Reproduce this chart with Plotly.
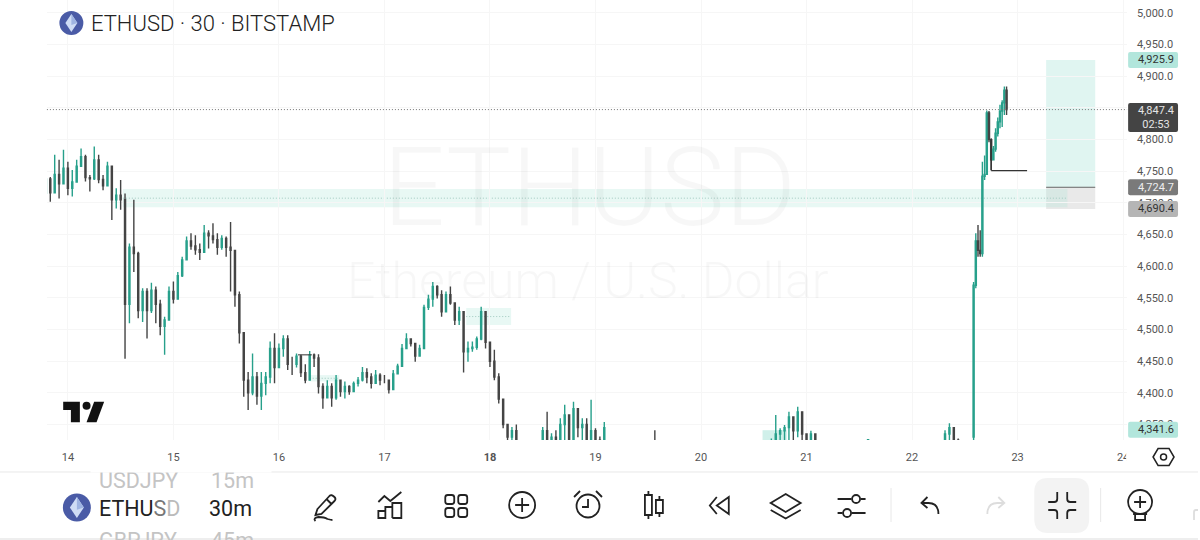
"""ETHUSD 30m chart screenshot rebuilt with Plotly candlesticks."""

import pandas as pd
import plotly.graph_objects as go

W, H = 1200, 540
PLOT_BOTTOM = 440
Y_MIN, Y_MAX = 4325.5, 5020.5

main_highs = [
    4744, 4741, 4776, 4768, 4784, 4765, 4752, 4768, 4786, 4776,
    4744, 4789, 4776, 4744, 4765, 4755, 4723, 4736, 4715, 4636,
    4705, 4623, 4565, 4565, 4574, 4568, 4547, 4520, 4568, 4576,
    4591, 4615, 4647, 4652, 4649, 4636, 4665, 4657, 4668, 4652,
    4649, 4647, 4670, 4620, 4560, 4496, 4433, 4462, 4433, 4433,
    4433, 4481, 4494, 4478, 4491, 4491, 4457, 4462, 4460, 4445,
    4466, 4462, 4461, 4415, 4420, 4415, 4428, 4418, 4418, 4412,
    4418, 4425, 4441, 4439, 4431, 4436, 4431, 4428, 4418, 4436,
    4446, 4477, 4494, 4486, 4476, 4476, 4539, 4555, 4575, 4570,
    4562, 4560, 4568, 4539, 4536, 4518, 4481, 4481, 4489, 4536,
    4523, 4473, 4468, 4431, 4383, 4338, 4346, 4350,
]
main_lows = [
    4710, 4702, 4721, 4707, 4731, 4712, 4710, 4736, 4757, 4734,
    4718, 4736, 4731, 4720, 4741, 4673, 4691, 4689, 4454, 4510,
    4591, 4518, 4512, 4486, 4526, 4510, 4491, 4460, 4533, 4541,
    4557, 4583, 4615, 4626, 4618, 4610, 4641, 4628, 4636, 4618,
    4626, 4615, 4560, 4536, 4478, 4394, 4373, 4396, 4381, 4373,
    4396, 4415, 4415, 4454, 4457, 4436, 4428, 4440, 4425, 4415,
    4441, 4441, 4399, 4375, 4394, 4378, 4389, 4394, 4391, 4397,
    4404, 4410, 4418, 4415, 4407, 4415, 4412, 4415, 4399, 4404,
    4431, 4446, 4473, 4473, 4449, 4457, 4473, 4531, 4536, 4549,
    4520, 4531, 4539, 4507, 4507, 4432, 4449, 4465, 4468, 4483,
    4470, 4441, 4420, 4383, 4344, 4310, 4315, 4310,
]
main_closes = [
    4738, 4716, 4745, 4730, 4755, 4723, 4733, 4758, 4773, 4740,
    4738, 4768, 4737, 4727, 4758, 4705, 4712, 4705, 4540, 4630,
    4620, 4530, 4560, 4530, 4562, 4540, 4505, 4515, 4560, 4548,
    4585, 4610, 4640, 4632, 4626, 4622, 4652, 4648, 4642, 4630,
    4644, 4630, 4625, 4555, 4495, 4420, 4400, 4425, 4395, 4415,
    4425, 4470, 4440, 4470, 4485, 4445, 4445, 4458, 4432, 4420,
    4460, 4455, 4410, 4392, 4410, 4392, 4420, 4402, 4410, 4402,
    4415, 4420, 4432, 4425, 4415, 4428, 4420, 4420, 4405, 4430,
    4442, 4470, 4485, 4478, 4458, 4470, 4535, 4548, 4568, 4555,
    4528, 4555, 4542, 4515, 4528, 4465, 4470, 4472, 4485, 4528,
    4480, 4450, 4425, 4390, 4350, 4330, 4340, 4318,
]
main_open = 4715

noon18_highs = [4346, 4370, 4336, 4341, 4360, 4381, 4354, 4386, 4373, 4360, 4360, 4389, 4344, 4331, 4354]
noon18_lows = [4300, 4300, 4305, 4305, 4300, 4310, 4300, 4310, 4330, 4310, 4310, 4320, 4310, 4300, 4300]
noon18_closes = [4340, 4312, 4330, 4310, 4350, 4365, 4320, 4375, 4345, 4350, 4325, 4340, 4325, 4318, 4345]
noon18_open = 4310

pm20_highs = [4328, 4365, 4344, 4349, 4370, 4362, 4378, 4346, 4331, 4340, 4333]
pm20_lows = [4305, 4300, 4310, 4310, 4325, 4320, 4330, 4310, 4300, 4300, 4300]
pm20_closes = [4322, 4335, 4340, 4345, 4362, 4340, 4370, 4335, 4318, 4335, 4320]
pm20_open = 4312

am22_highs = [4341, 4352, 4331, 4328]
am22_lows = [4300, 4300, 4300, 4300]
am22_closes = [4335, 4345, 4325, 4322]
am22_open = 4310

pump_highs = [4575, 4652, 4665, 4657, 4765, 4775, 4846, 4845, 4802, 4790, 4818, 4835, 4855, 4862, 4884, 4884]
pump_lows = [4300, 4565, 4615, 4615, 4615, 4736, 4744, 4796, 4752, 4768, 4781, 4805, 4818, 4820, 4839, 4839]
pump_closes = [4570, 4640, 4625, 4620, 4742, 4745, 4842, 4800, 4768, 4785, 4810, 4828, 4845, 4858, 4878, 4847.4]
pump_open = 4330

# start, bar spacing, open of first bar, highs, lows, closes
segments = [
    ("2025-08-13 19:00", "60min", main_open, main_highs, main_lows, main_closes),
    ("2025-08-18 12:00", "60min", noon18_open, noon18_highs, noon18_lows, noon18_closes),
    ("2025-08-19 13:30", "60min", 4320, [4341], [4300], [4310]),
    ("2025-08-20 16:00", "60min", pm20_open, pm20_highs, pm20_lows, pm20_closes),
    ("2025-08-21 14:00", "60min", 4325, [4327], [4322], [4326]),
    ("2025-08-22 07:30", "60min", am22_open, am22_highs, am22_lows, am22_closes),
    ("2025-08-22 14:00", "30min", pump_open, pump_highs, pump_lows, pump_closes),
]

day_ticks = ["2025-08-%02d" % d for d in range(14, 25)]
day_labels = ["14", "15", "16", "17", "<b>18</b>", "19", "20", "21", "22", "23", "24"]
price_ticks = list(range(4350, 5001, 50))

last_price = 4847.4
target_price = 4925.9
entry_price = 4724.7
stop_price = 4690.4
low_tag_price = 4341.6

frames = []
for start, freq, first_open, highs, lows, closes in segments:
    opens = [first_open] + closes[:-1]
    frames.append(pd.DataFrame({
        "time": pd.date_range(start, periods=len(closes), freq=freq),
        "open": opens, "high": highs, "low": lows, "close": closes,
    }))
bars = pd.concat(frames, ignore_index=True)

fig = go.Figure(go.Candlestick(
    x=bars["time"], open=bars["open"], high=bars["high"], low=bars["low"], close=bars["close"],
    increasing=dict(line=dict(color="#27a08b", width=1.4), fillcolor="#27a08b"),
    decreasing=dict(line=dict(color="#444444", width=1.4), fillcolor="#444444"),
    whiskerwidth=0, showlegend=False, hoverinfo="skip",
))


# ── helpers, everything outside the axes is placed in screen pixels ──
def px_path(d, dx=0, dy=0):
    out, is_x = [], True
    for tok in d.split():
        if tok.isalpha():
            out.append(tok)
            is_x = True
        else:
            v = float(tok)
            out.append(f"{(v + dx) / W:.5f}" if is_x else f"{1 - (v + dy) / H:.5f}")
            is_x = not is_x
    return " ".join(out)


def price_px(price):
    return PLOT_BOTTOM * (Y_MAX - price) / (Y_MAX - Y_MIN)


shapes = []


def draw(d, dx=0, dy=0, color="#222222", width=1.8, fill=None):
    shapes.append(dict(type="path", path=px_path(d, dx, dy), xref="paper", yref="paper", layer="above",
                       line=dict(color=color, width=width), fillcolor=fill))


def circle(cx, cy, r, color="#222222", width=1.8, fill=None):
    shapes.append(dict(type="circle", xref="paper", yref="paper", layer="above",
                       x0=(cx - r) / W, x1=(cx + r) / W, y0=1 - (cy + r) / H, y1=1 - (cy - r) / H,
                       line=dict(color=color, width=width), fillcolor=fill))


def round_rect(x0, y0, x1, y1, r, color="#222222", width=1.8, fill=None):
    d = (f"M {x0 + r} {y0} L {x1 - r} {y0} Q {x1} {y0} {x1} {y0 + r} L {x1} {y1 - r} Q {x1} {y1} {x1 - r} {y1} "
         f"L {x0 + r} {y1} Q {x0} {y1} {x0} {y1 - r} L {x0} {y0 + r} Q {x0} {y0} {x0 + r} {y0} Z")
    draw(d, color=color, width=width, fill=fill)


def zone(t0, t1, top, bottom, fill="rgba(170,228,216,0.27)", mid=True):
    shapes.append(dict(type="rect", x0=t0, x1=t1, y0=bottom, y1=top, xref="x", yref="y", layer="below",
                       line=dict(width=0), fillcolor=fill))
    if mid:
        shapes.append(dict(type="line", x0=t0, x1=t1, y0=(top + bottom) / 2, y1=(top + bottom) / 2,
                           xref="x", yref="y", layer="below", line=dict(color="#9fc9bf", width=1, dash="1px,2px")))


# ── drawings on the chart ──
shapes.append(dict(type="rect", x0="2025-08-23 06:30", x1="2025-08-23 17:40", y0=entry_price, y1=target_price,
                   xref="x", yref="y", layer="below", line=dict(width=0), fillcolor="#e0f5f1"))
shapes.append(dict(type="rect", x0="2025-08-23 06:30", x1="2025-08-23 17:40", y0=stop_price, y1=entry_price,
                   xref="x", yref="y", layer="below", line=dict(width=0), fillcolor="#e9e9e9"))
zone("2025-08-14 12:30", "2025-08-23 11:20", 4722, 4693)
zone("2025-08-17 18:36", "2025-08-18 04:48", 4534, 4507)
zone("2025-08-16 07:00", "2025-08-16 13:45", 4428, 4418)
zone("2025-08-20 14:00", "2025-08-20 19:30", 4341, 4300, fill="rgba(170,228,216,0.55)", mid=False)
shapes.append(dict(type="line", x0="2025-08-23 06:30", x1="2025-08-23 17:40", y0=entry_price, y1=entry_price,
                   xref="x", yref="y", line=dict(color="#666666", width=1)))
shapes.append(dict(type="line", x0="2025-08-16 04:20", x1="2025-08-16 07:30", y0=4460, y1=4460,
                   xref="x", yref="y", line=dict(color="#333333", width=1)))
shapes.append(dict(type="line", x0="2025-08-22 18:00", x1="2025-08-23 02:10", y0=4751, y1=4751,
                   xref="x", yref="y", line=dict(color="#333333", width=1.3)))
shapes.append(dict(type="line", x0="2025-08-22 18:00", x1="2025-08-22 18:00", y0=4751, y1=4800,
                   xref="x", yref="y", line=dict(color="#333333", width=1.3)))
shapes.append(dict(type="line", x0=47 / W, x1=1129 / W, y0=last_price, y1=last_price,
                   xref="paper", yref="y", line=dict(color="#777777", width=1, dash="1px,2px")))

# tradingview logo
draw("M 63.3 401.7 L 80 401.7 L 80 422.3 L 71 422.3 L 71 410 L 63.3 410 Z", color="#111111", width=0, fill="#111111")
draw("M 94.3 401.7 L 104.3 401.7 L 96.7 422.3 L 86.7 422.3 Z", color="#111111", width=0, fill="#111111")
circle(86.7, 405.7, 4, color="#111111", width=0, fill="#111111")


def eth_icon(cx, cy, r):
    circle(cx, cy, r, color="#4a5ba6", width=0, fill="#4a5ba6")
    k = r / 12
    draw(f"M {cx} {cy - 9 * k} L {cx + 6 * k} {cy} L {cx} {cy + 9 * k} L {cx - 6 * k} {cy} Z",
         color="#cfdcf5", width=0, fill="#cfdcf5")
    draw(f"M {cx} {cy - 9 * k} L {cx + 6 * k} {cy} L {cx} {cy + 2 * k} Z", color="#9fb4e2", width=0, fill="#9fb4e2")


eth_icon(71.5, 23, 12)

# price tags
TAG_X0, TAG_X1 = 1130, 1180
for price, fill in [(target_price, "#b2e6dc"), (entry_price, "#7a7a7a"), (stop_price, "#b5b5b5"), (low_tag_price, "#b2e6dc")]:
    yc = price_px(price)
    round_rect(TAG_X0, yc - 8, TAG_X1, yc + 8, 2, color=fill, width=0, fill=fill)
round_rect(TAG_X0, 103, TAG_X1, 132, 2, color="#444444", width=0, fill="#444444")

# hexagon settings button and cover for the clipped "24"
shapes.append(dict(type="rect", x0=1128 / W, x1=1150 / W, y0=1 - 470 / H, y1=1 - 445 / H, xref="paper", yref="paper",
                   layer="above", line=dict(width=0), fillcolor="white"))
draw("M 1155 457 L 1160 448.5 L 1171 448.5 L 1176 457 L 1171 465.5 L 1160 465.5 Z", width=1.5)
circle(1165.5, 457, 3, width=1.5)

# toolbar frame
draw("M 0 472 L 1200 472", color="#e8e8e8", width=1)
draw("M 0 539 L 1200 539", color="#e8e8e8", width=1.5)
eth_icon(77, 507.5, 14)

# pencil
draw("M -7 4 L 5 -9 Q 7 -11 10 -8 Q 12 -6 10 -4 L -3 9 L -9 10 Z M 2 -6 L 7 -1", 325, 505)
draw("M -9 16 Q -12 13 -6 12 Q 0 12 3 14 Q 7 15 8 15", 325, 505)
# indicators
draw("M -12 13 L -12 6 L -5 6 L -5 13 Z M -5 13 L -5 2 L 2 2 L 2 13 M 2 13 L 2 -2 L 11 -2 L 11 13 L 2 13", 391, 505)
draw("M -12 -3 L -6 -9 L 0 -4 L 11 -13", 391, 505)
# templates
for x0, y0 in [(446, 495), (459, 495), (446, 508), (459, 508)]:
    round_rect(x0, y0, x0 + 9, y0 + 9, 2.5)
# add
circle(523, 505, 13)
draw("M 516 505 L 530 505 M 523 498 L 523 512")
# alarm
circle(589, 506, 11.5)
draw("M 589 499 L 589 507 L 583 507")
draw("M 575 497 L 581 491 M 603 497 L 597 491")
# candles
draw("M 646 495 L 653 495 L 653 515 L 646 515 Z M 649.5 491 L 649.5 495 M 649.5 515 L 649.5 519")
draw("M 657 500 L 664 500 L 664 513 L 657 513 Z M 660.5 496 L 660.5 500 M 660.5 513 L 660.5 517")
# replay
draw("M 730 497 L 730 514 L 718 505.5 Z M 718 497 L 711 505.5 L 718 514")
# layers
draw("M 787 494 L 802 503 L 787 512 L 772 503 Z M 772 510 L 787 518.5 L 802 510")
# sliders
draw("M 839 499 L 853 499 M 862 499 L 867 499 M 839 513 L 844 513 M 853 513 L 867 513")
circle(857.5, 499, 4)
circle(848.5, 513, 4)
# separators
draw("M 892.5 488 L 892.5 522", color="#e8e8e8", width=1)
draw("M 1102.5 488 L 1102.5 522", color="#e8e8e8", width=1)
# undo and redo
draw("M 940 514 Q 940 503 930 503 L 923 503 M 929 497 L 923 503 L 929 508")
draw("M 989 514 Q 989 503 999 503 L 1006 503 M 1000 497 L 1006 503 L 1000 508", color="#dddddd")
# compress button
round_rect(1036, 478, 1091, 533, 14, color="#f3f3f3", width=0, fill="#f3f3f3")
draw("M 1050 502 L 1056 502 Q 1059 502 1059 499 L 1059 492 M 1078 502 L 1072 502 Q 1069 502 1069 499 L 1069 492")
draw("M 1050 510 L 1056 510 Q 1059 510 1059 513 L 1059 519 M 1078 510 L 1072 510 Q 1069 510 1069 513 L 1069 519")
# idea bulb
circle(1142, 502, 12)
draw("M 1136 502 L 1148 502 M 1142 496 L 1142 508")
draw("M 1135 514 L 1149 514 M 1137 514 L 1137 520 L 1147 520 L 1147 514")
draw("M 1200 510 L 1198 510 Q 1196 510 1196 512 L 1196 520", color="#dddddd")


# ── texts ──
def text(x, y, s, size, color="#222222", anchor="left", weight=None, yref="paper"):
    font = dict(family="Roboto", size=size, color=color)
    if weight:
        font["weight"] = weight
    return dict(x=x / W, y=(1 - y / H) if yref == "paper" else y, xref="paper", yref=yref, text=s, showarrow=False,
                font=font, xanchor=anchor, yanchor="middle", align="center")


def cover(x0, y0, x1, y1, color="white"):
    return dict(x=x0 / W, y=1 - y0 / H, xref="paper", yref="paper", text=" ", showarrow=False, xanchor="left",
                yanchor="top", width=x1 - x0, height=y1 - y0, bgcolor=color, font=dict(size=1), borderpad=0)


TAG_MID = 1157.5
annotations = [
    text(590, 188, "ETHUSD", 109, color="rgba(0,0,0,0.03)", anchor="center", weight=300),
    text(589, 281, "Ethereum / U.S. Dollar", 50, color="rgba(0,0,0,0.03)", anchor="center", weight=300),
    text(89, 23, "ETHUSD · 30 · BITSTAMP", 22, weight=300),
    text(TAG_MID, target_price, "4,925.9", 11, color="#333333", anchor="center", yref="y"),
    text(TAG_MID, entry_price, "4,724.7", 11, color="#eeeeee", anchor="center", yref="y"),
    text(TAG_MID, stop_price, "4,690.4", 11, color="#333333", anchor="center", yref="y"),
    text(TAG_MID, low_tag_price, "4,341.6", 11, color="#333333", anchor="center", yref="y"),
    text(TAG_MID, 117.5, "4,847.4<br>02:53", 11, color="#e4e4e4", anchor="center"),
    text(97, 480, "USDJPY", 21.5, color="#c4c4c4"),
    text(209, 480, "15m", 21.5, color="#c4c4c4"),
    text(97, 508, 'ETHU<span style="color:#777777">S</span><span style="color:#bbbbbb">D</span>', 21.5, color="#222222"),
    text(207, 508, "30m", 21.5, color="#222222"),
    text(97, 540, "GBPJPY", 21.5, color="#c4c4c4"),
    text(209, 540, "45m", 21.5, color="#c4c4c4"),
    cover(90, 464, 270, 471),
]

fig.update_layout(
    width=W, height=H, margin=dict(l=0, r=0, t=0, b=0),
    paper_bgcolor="white", plot_bgcolor="white", showlegend=False,
    shapes=shapes, annotations=annotations,
    font=dict(family="Roboto", size=11, color="#555555"),
    xaxis=dict(
        type="date", domain=[47 / W, 1129 / W], range=["2025-08-13 19:14", "2025-08-24 00:55"],
        tickmode="array", tickvals=day_ticks, ticktext=day_labels, ticklen=0, ticklabelstandoff=9,
        showgrid=True, gridcolor="#f6f6f6", gridwidth=1, zeroline=False, showline=False,
        rangeslider=dict(visible=False), tickfont=dict(family="Roboto", size=11, color="#555555"),
    ),
    yaxis=dict(
        domain=[1 - PLOT_BOTTOM / H, 1], range=[Y_MIN, Y_MAX], side="right",
        tickmode="array", tickvals=price_ticks, tickformat=",.1f", ticklen=0, ticklabelstandoff=9,
        showgrid=True, gridcolor="#f6f6f6", gridwidth=1, zeroline=False, showline=False,
        tickfont=dict(family="Roboto", size=11, color="#555555"),
    ),
)

fig.write_html("out.html", config={"displayModeBar": False},
               post_script="document.body.style.margin='0';document.body.style.overflow='hidden';")
